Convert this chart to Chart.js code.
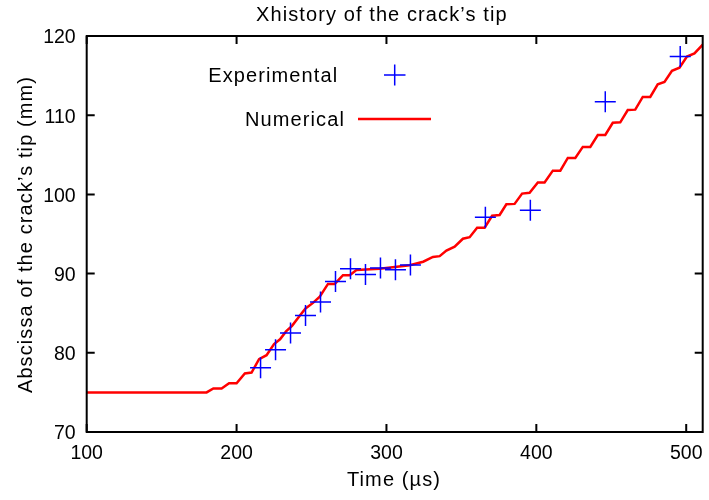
<!DOCTYPE html>
<html>
<head>
<meta charset="utf-8">
<script src="https://cdn.jsdelivr.net/npm/chart.js@4"></script>
<style>
  html, body { margin: 0; padding: 0; background: #fff; }
  #wrap { width: 709px; height: 500px; }
</style>
</head>
<body>
<div id="wrap"><canvas id="crack"></canvas></div>
<script>
// experimental crack tip positions (time in µs, abscissa in mm)
const expTime = [216, 226, 236, 246, 256, 266, 276, 286, 296, 306, 316, 366, 396, 446, 496];
const expPos  = [78.1, 80.4, 82.5, 84.7, 86.4, 89.0, 90.6, 89.9, 90.7, 90.5, 91.1, 97.1, 98.0, 111.7, 117.4];

// numerical solution (stair-like curve)
const numTime = [100, 180, 184.5, 190, 195, 200, 205.5, 210, 215, 220, 225, 229, 233, 237, 242, 246, 251, 255.5,
  261, 265.5, 271, 275.5, 280, 295.5, 315.5, 324.5, 331, 335.5, 340, 345.5, 351, 355.5, 360.5, 365.5, 370.5,
  375.5, 380, 385.5, 390.5, 395.5, 401, 405.5, 411, 416, 421, 426, 431, 436, 441, 446, 451, 456, 461, 466,
  471, 476, 481, 485.5, 490.5, 495.5, 500.5, 505.5, 511];
const numPos = [75, 75, 75.5, 75.5, 76.15, 76.15, 77.4, 77.5, 79.2, 79.7, 81.1, 81.7, 82.7, 83.4, 84.65, 85.6, 86.3, 87.1,
  88.7, 88.7, 89.8, 89.8, 90.45, 90.6, 91.05, 91.5, 92.1, 92.2, 92.9, 93.4, 94.4, 94.6, 95.8, 95.8, 97.3,
  97.4, 98.75, 98.8, 100.1, 100.2, 101.5, 101.5, 103.0, 103.0, 104.6, 104.6, 106.0, 106.0, 107.5, 107.5, 109.05, 109.1, 110.65, 110.7,
  112.3, 112.3, 113.9, 114.2, 115.6, 116.0, 117.4, 117.8, 118.9];

const timeTicks = [100, 200, 300, 400, 500];
const posTicks = [70, 80, 90, 100, 110, 120];

const FONT = 'Liberation Sans, Arial, Helvetica, sans-serif';
Chart.defaults.color = '#000';
Chart.defaults.font.family = FONT;

/* frame + inward ticks on all four sides, titles and key, gnuplot style */
const gnuplotFrame = {
  id: 'gnuplotFrame',
  afterDraw(chart) {
    const ctx = chart.ctx;
    const a = chart.chartArea;
    const xs = chart.scales.x, ys = chart.scales.y;
    const tl = 8;
    ctx.save();
    ctx.strokeStyle = '#000';
    ctx.lineWidth = 2;
    ctx.strokeRect(a.left, a.top, a.right - a.left, a.bottom - a.top);
    ctx.beginPath();
    timeTicks.forEach(v => {
      const px = xs.getPixelForValue(v);
      ctx.moveTo(px, a.bottom); ctx.lineTo(px, a.bottom - tl);
      ctx.moveTo(px, a.top); ctx.lineTo(px, a.top + tl);
    });
    posTicks.forEach(v => {
      const py = ys.getPixelForValue(v);
      ctx.moveTo(a.left, py); ctx.lineTo(a.left + tl, py);
      ctx.moveTo(a.right, py); ctx.lineTo(a.right - tl, py);
    });
    ctx.stroke();

    // titles
    ctx.fillStyle = '#000';
    ctx.font = '20px ' + FONT;
    ctx.letterSpacing = '1.1px';
    ctx.textBaseline = 'alphabetic';
    ctx.textAlign = 'left';
    ctx.fillText('Xhistory of the crack\u2019s tip', 256, 20.7);
    ctx.textAlign = 'center';
    ctx.fillText('Time (\u00b5s)', 394, 486);
    ctx.save();
    ctx.translate(31.5, 234.5);
    ctx.rotate(-Math.PI / 2);
    ctx.fillText('Abscissa of the crack\u2019s tip (mm)', 0, 0);
    ctx.restore();

    // key
    const ds = chart.data.datasets;
    ctx.textAlign = 'left';
    ctx.fillText(ds[0].label, 208.3, 81.7);
    ctx.fillText(ds[1].label, 245, 126);
    ctx.letterSpacing = '0px';
    ctx.strokeStyle = '#0000ff';
    ctx.lineWidth = 1.5;
    ctx.beginPath();
    ctx.moveTo(384, 75); ctx.lineTo(405.5, 75);
    ctx.moveTo(394.7, 64.5); ctx.lineTo(394.7, 85.5);
    ctx.stroke();
    ctx.strokeStyle = '#ff0000';
    ctx.lineWidth = 2.5;
    ctx.beginPath();
    ctx.moveTo(358, 119); ctx.lineTo(431, 119);
    ctx.stroke();
    ctx.restore();
  }
};

new Chart(document.getElementById('crack'), {
  type: 'scatter',
  data: {
    datasets: [
      {
        label: 'Experimental',
        data: expTime.map((t, i) => ({ x: t, y: expPos[i] })),
        showLine: false,
        pointStyle: 'cross',
        pointRadius: 10.5,
        pointHoverRadius: 10.5,
        pointBorderWidth: 1.5,
        borderColor: '#0000ff',
        backgroundColor: '#0000ff',
        order: 0
      },
      {
        label: 'Numerical',
        data: numTime.map((t, i) => ({ x: t, y: numPos[i] })),
        showLine: true,
        borderColor: '#ff0000',
        borderWidth: 2.5,
        pointRadius: 0,
        tension: 0,
        order: 1
      }
    ]
  },
  options: {
    responsive: true,
    maintainAspectRatio: false,
    animation: false,
    events: [],
    layout: { autoPadding: false, padding: { top: 36, right: 6.3, bottom: 0, left: 0 } },
    plugins: {
      legend: { display: false },
      title: { display: false },
      tooltip: { enabled: false }
    },
    scales: {
      x: {
        type: 'linear',
        min: 100,
        max: 511,
        afterBuildTicks: s => { s.ticks = timeTicks.map(v => ({ value: v })); },
        afterFit: s => { s.height = 68; s.paddingLeft = 0; s.paddingRight = 0; },
        grid: { display: false, drawTicks: false },
        border: { display: false },
        ticks: { font: { size: 19.5 }, padding: 10, maxRotation: 0, autoSkip: false }
      },
      y: {
        type: 'linear',
        min: 70,
        max: 120,
        afterBuildTicks: s => { s.ticks = posTicks.map(v => ({ value: v })); },
        afterFit: s => { s.width = 86.7; s.paddingTop = 0; s.paddingBottom = 0; },
        grid: { display: false, drawTicks: false },
        border: { display: false },
        ticks: { font: { size: 19.5 }, padding: 11, labelOffset: 2 }
      }
    }
  },
  plugins: [gnuplotFrame]
});
</script>
</body>
</html>
